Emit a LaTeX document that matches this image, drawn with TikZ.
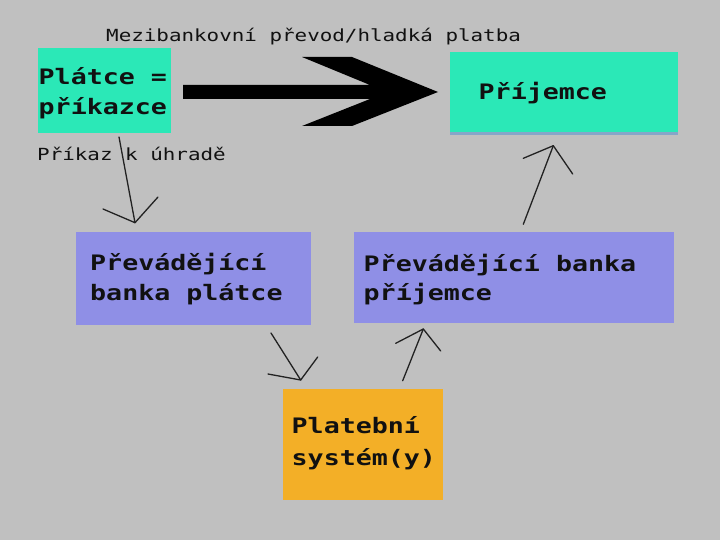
\documentclass[tikz,border=0pt]{standalone}
\usepackage{fontspec}
\newfontfamily\pix[FakeStretch=1.25]{DejaVu Sans Mono}
\definecolor{bg}{HTML}{C0C0C0}
\definecolor{boxteal}{HTML}{2BE8B7}
\definecolor{boxblue}{HTML}{8F8FE6}
\definecolor{boxorange}{HTML}{F3AF27}
\definecolor{edgeblue}{HTML}{86A6C8}
\definecolor{txt}{HTML}{111111}
\definecolor{ln}{HTML}{222222}
\begin{document}
\begin{tikzpicture}[x=1pt,y=-1pt,
  box/.style={draw=none, inner sep=0pt, outer sep=0pt, anchor=north west},
  bigtxt/.style={font=\pix\bfseries\fontsize{21.3}{25}\selectfont, inner sep=0pt, anchor=base west, text=txt},
  smalltxt/.style={font=\pix\fontsize{16.7}{20}\selectfont, inner sep=0pt, anchor=base west, text=txt},
  pen/.style={draw=ln, line width=1.3pt, line cap=round, line join=round}]
\fill[bg] (0,0) rectangle (720,540);
\useasboundingbox (0,0) rectangle (720,540);

% boxes
\node[box, fill=boxteal, minimum width=133pt, minimum height=85pt] (payer) at (37.5,48) {};
\node[box, fill=boxteal, minimum width=228pt, minimum height=83pt] (payee) at (450,52) {};
\fill[edgeblue] (450,132.5) rectangle (678,135);
\node[box, fill=boxblue, minimum width=235.5pt, minimum height=92.5pt] (bankA) at (75.5,232) {};
\node[box, fill=boxblue, minimum width=320pt, minimum height=91pt] (bankB) at (354,232) {};
\node[box, fill=boxorange, minimum width=160pt, minimum height=111pt] (sys) at (283,389) {};

% texts
\node[smalltxt] (title) at (106,41.7) {Mezibankovní převod/hladká platba};
\node[bigtxt] (payer1) at (38.5,84.3) {Plátce =};
\node[bigtxt] (payer2) at (38.5,115) {příkazce};
\node[bigtxt] (payee1) at (478.5,100) {Příjemce};
\node[smalltxt] (order) at (37,160.7) {Příkaz k úhradě};
\node[bigtxt] (bankA1) at (90,270.7) {Převádějící};
\node[bigtxt] (bankA2) at (90,300.7) {banka plátce};
\node[bigtxt] (bankB1) at (363.5,271) {Převádějící banka};
\node[bigtxt] (bankB2) at (363.5,300.7) {příjemce};
\node[bigtxt] (sys1) at (291.5,433.3) {Platební};
\node[bigtxt] (sys2) at (291.5,465) {systém(y)};

% big arrow
\fill[black] (183,85) -- (370,85) -- (302,57) -- (352,57) -- (438,92)
  -- (352,126) -- (302,126) -- (370,99) -- (183,99) -- cycle;

% thin arrows
\coordinate (s1) at (119,137);   \coordinate (t1) at (135,222.7);
\coordinate (l1) at (103,209);   \coordinate (r1) at (158,197);
\coordinate (s2) at (271,333);   \coordinate (t2) at (300.7,380);
\coordinate (l2) at (268,374);   \coordinate (r2) at (317.7,357);
\coordinate (s3) at (402.7,380.7); \coordinate (t3) at (423.3,329);
\coordinate (l3) at (395.7,343.3); \coordinate (r3) at (440.7,351);
\coordinate (s4) at (523.3,224.3); \coordinate (t4) at (553.3,145.7);
\coordinate (l4) at (523.3,158.3); \coordinate (r4) at (572.7,174);
\draw[pen] (s1) -- (t1); \draw[pen] (l1) -- (t1) -- (r1);
\draw[pen] (s2) -- (t2); \draw[pen] (l2) -- (t2) -- (r2);
\draw[pen] (s3) -- (t3); \draw[pen] (l3) -- (t3) -- (r3);
\draw[pen] (s4) -- (t4); \draw[pen] (l4) -- (t4) -- (r4);
\end{tikzpicture}
\end{document}
